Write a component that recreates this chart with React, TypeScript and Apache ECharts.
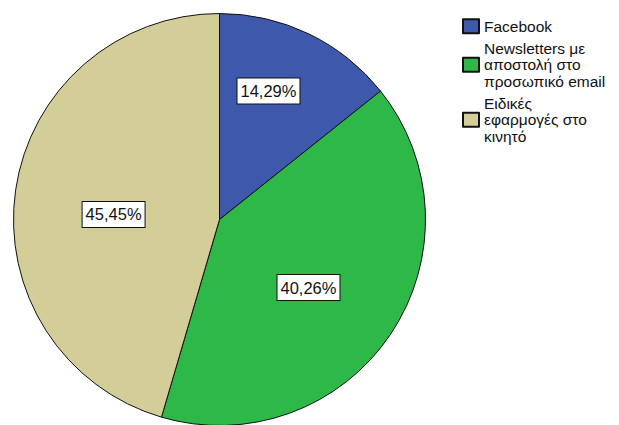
import React, { useEffect, useRef } from "react";
import * as echarts from "echarts";

const categories = [
  "Facebook",
  "Newsletters με\nαποστολή στο\nπροσωπικό email",
  "Ειδικές\nεφαρμογές στο\nκινητό",
];
const counts = [11, 31, 35];
const colors = ["#3E58AC", "#2EB848", "#D3CE97"];
const labelShift = [
  [3, -33],
  [1, 9],
  [-1, 10],
];

export default function App() {
  const ref = useRef<HTMLDivElement>(null);
  useEffect(() => {
    document.body.style.margin = "0";
    const chart = echarts.init(ref.current!, null, { renderer: "svg" });
    chart.setOption({
      animation: false,
      backgroundColor: "#ffffff",
      legend: {
        orient: "vertical",
        left: 462,
        top: 18,
        padding: 0,
        itemWidth: 16,
        itemHeight: 14,
        itemGap: 5.5,
        icon: "rect",
        selectedMode: false,
        textStyle: {
          fontFamily: "Liberation Sans, Arial, sans-serif",
          fontSize: 15.5,
          lineHeight: 16.5,
          color: "#111",
        },
        data: categories,
      },
      series: [
        {
          type: "pie",
          center: [219.5, 219.5],
          radius: 206,
          startAngle: 90,
          clockwise: true,
          avoidLabelOverlap: false,
          itemStyle: { borderColor: "#111", borderWidth: 1 },
          emphasis: { disabled: true },
          label: {
            show: true,
            position: "inside",
            formatter: (p: any) => p.percent.toFixed(2).replace(".", ",") + "%",
            fontFamily: "Liberation Sans, Arial, sans-serif",
            fontSize: 16.5,
            lineHeight: 18,
            color: "#111",
            backgroundColor: "#ffffff",
            borderColor: "#111",
            borderWidth: 1,
            padding: [4, 3, 3, 3],
          },
          labelLine: { show: false },
          labelLayout: (params: any) => ({
            dx: labelShift[params.dataIndex][0],
            dy: labelShift[params.dataIndex][1],
          }),
          data: categories.map((name, i) => ({
            name,
            value: counts[i],
            itemStyle: { color: colors[i] },
          })),
        },
      ],
    });
    return () => chart.dispose();
  }, []);
  return <div ref={ref} style={{ width: 619, height: 425 }} />;
}
